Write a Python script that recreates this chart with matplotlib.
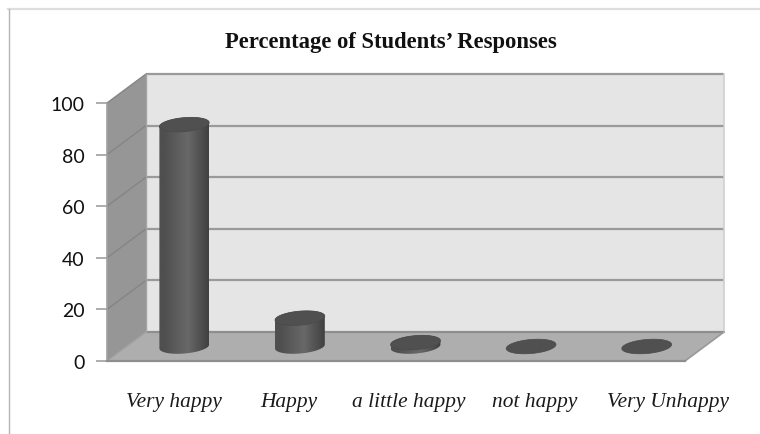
import numpy as np
import matplotlib
matplotlib.use('Agg')
import matplotlib.pyplot as plt
from matplotlib.patches import Polygon

categorias = ['Very happy', 'Happy', 'a little happy', 'not happy', 'Very Unhappy']
valores = [86, 11, 1.5, 0, 0]
ticks_y = [0, 20, 40, 60, 80, 100]

W, H = 760, 435
fig = plt.figure(figsize=(W / 100, H / 100), dpi=100)
ax = fig.add_axes([107 / W, (H - 362) / H, 578 / W, 258 / H])

# escala: quantos pixels por unidade de dado
px_x = 578 / len(categorias)
px_y = 258 / 100
dx = 39 / px_x   # profundidade do efeito 3D
dy = 29 / px_y
n = len(categorias)

# paredes e chao
ax.add_patch(Polygon([(dx, dy), (n + dx, dy), (n + dx, 100 + dy), (dx, 100 + dy)],
                     fc='#e5e5e5', ec='none', zorder=1, clip_on=False))
ax.add_patch(Polygon([(0, 0), (dx, dy), (dx, 100 + dy), (0, 100)],
                     fc='#969696', ec='none', zorder=1, clip_on=False))
ax.add_patch(Polygon([(0, 0), (n, 0), (n + dx, dy), (dx, dy)],
                     fc='#aeaeae', ec='none', zorder=1, clip_on=False))

# linhas de grade
for t in ticks_y:
    cor = '#9a9a9a' if t > 0 else '#8e8e8e'
    ax.plot([dx, n + dx], [t + dy, t + dy], color=cor, lw=1.6, zorder=2,
            clip_on=False, solid_capstyle='butt')
    if t > 0:
        ax.plot([0, dx], [t, t + dy], color='#858585', lw=1.0, zorder=2, clip_on=False)
ax.plot([0, dx], [0, dy], color='#a0a0a0', lw=1.0, zorder=2, clip_on=False)
ax.plot([n + dx, n + dx], [dy, 100 + dy], color='#cfcfcf', lw=1.2, zorder=2, clip_on=False)
ax.plot([n, n + dx], [0, dy], color='#999999', lw=1.2, zorder=2, clip_on=False)
ax.plot([dx, dx], [dy, 100 + dy], color='#a4a4a4', lw=1.0, zorder=2, clip_on=False)


def elipse(cx, cy, t):
    # elipse levemente inclinada, calculada em pixels e voltando para dados
    a, b, ang = 25, 7, np.radians(5)
    ex = a * np.cos(t)
    ey = b * np.sin(t)
    x = ex * np.cos(ang) - ey * np.sin(ang)
    y = ex * np.sin(ang) + ey * np.cos(ang)
    return np.column_stack([cx + x / px_x, cy + y / px_y])


gradiente = np.interp(np.linspace(0, 1, 200), [0, 0.1, 0.58, 0.9, 1],
                      [0.31, 0.31, 0.41, 0.29, 0.25]).reshape(1, -1)

for i, v in enumerate(valores):
    cx = i + 0.5 + dx / 2
    base = dy / 2
    topo = base + v
    if v > 0:
        arco_baixo = elipse(cx, base, np.linspace(np.pi, 2 * np.pi, 50))
        arco_cima = elipse(cx, topo, np.linspace(0, np.pi, 50))
        lado = Polygon(np.vstack([arco_baixo, arco_cima]), fc='none', ec='none',
                       transform=ax.transData)
        ax.add_patch(lado)
        xs = np.vstack([arco_baixo, arco_cima])
        im = ax.imshow(gradiente, cmap='gray', vmin=0, vmax=1, aspect='auto', zorder=3,
                       extent=[xs[:, 0].min(), xs[:, 0].max(), xs[:, 1].min(), xs[:, 1].max()],
                       interpolation='bilinear')
        im.set_clip_path(lado)
    tampa = Polygon(elipse(cx, topo, np.linspace(0, 2 * np.pi, 80)), fc='#505050',
                    ec='#4a4a4a', lw=0.5, zorder=4, clip_on=False)
    ax.add_patch(tampa)

ax.set_xlim(0, n)
ax.set_ylim(0, 100)
ax.set_xticks([])
ax.set_yticks(ticks_y)
ax.set_yticklabels([str(t) for t in ticks_y], fontfamily='Lato', fontsize=14, color='#111111')
ax.tick_params(axis='y', length=8, width=1.2, color='#a0a0a0', pad=8)
ax.patch.set_visible(False)
for lado_eixo in ['top', 'right']:
    ax.spines[lado_eixo].set_visible(False)
ax.spines['left'].set_color('#a0a0a0')
ax.spines['left'].set_linewidth(1.2)
ax.spines['bottom'].set_color('#8e8e8e')
ax.spines['bottom'].set_linewidth(1.6)

# titulo e rotulos (texto solto, como no original)
fig.text(391 / W, 1 - 42.5 / H, 'Percentage of Students\u2019 Responses', ha='center', va='center',
         fontfamily='Liberation Serif', fontweight='bold', fontsize=16.3, color='#111111')
for nome, xp in zip(categorias, [174, 289, 409, 535, 668]):
    fig.text(xp / W, 1 - 403 / H, nome, ha='center', va='center', fontfamily='Liberation Serif',
             fontstyle='italic', fontsize=15.4, color='#1a1a1a')

# borda do quadro
fig.add_artist(plt.Line2D([8 / W, 1], [1 - 9.5 / H, 1 - 9.5 / H], color='#dedede', lw=1.6))
fig.add_artist(plt.Line2D([8.5 / W, 8.5 / W], [0, 1 - 10 / H], color='#b4b4b4', lw=1.0))

fig.savefig('out.png', dpi=100)
